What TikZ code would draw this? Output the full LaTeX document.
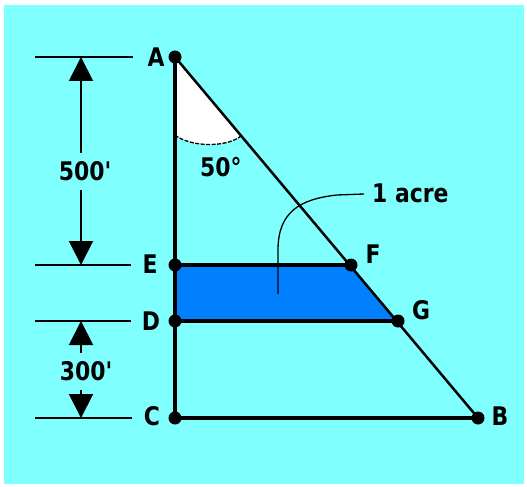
\documentclass[tikz,border=0pt]{standalone}
\usepackage{fontspec}
\usepackage{graphicx}
\setmainfont{DejaVu Sans}
\usetikzlibrary{arrows.meta}
\definecolor{bgcyan}{HTML}{80FFFF}
\definecolor{fillblue}{HTML}{0080FF}
\newcommand{\tallt}[1]{\scalebox{1}[1.17]{#1}}
\begin{document}
\begin{tikzpicture}[x=1bp,y=-1bp,
  lbl/.style={font=\fontsize{22}{26}\selectfont\bfseries, inner sep=0},
  dot/.style={circle, fill=black, inner sep=0, minimum size=13bp},
  heavy/.style={line width=3.5bp},
  hyp/.style={line width=2.5bp},
  dimline/.style={line width=2bp},
  tipend/.style={-{Triangle[length=24bp,width=24bp]}},
  leader/.style={line width=1.3bp},
  arcline/.style={line width=1.3bp, dash pattern=on 4bp off 1.5bp}]
\useasboundingbox (0,0) rectangle (527,487);
\fill[white] (0,0) rectangle (527,487);
\fill[bgcyan] (4,5) rectangle (524,484);
% main points
\coordinate (A) at (175,57);
\coordinate (E) at (175,265);
\coordinate (D) at (175,321);
\coordinate (C) at (175,418);
\coordinate (B) at (478,418);
\coordinate (F) at (351,265);
\coordinate (G) at (398,321);
% blue area
\fill[fillblue] (E) -- (F) -- (G) -- (D) -- cycle;
% angle wedge
\coordinate (w1) at (175,135);
\coordinate (w2) at (241,136);
\fill[white] (A) -- (w1) .. controls (190,147) and (226,148) .. (w2) -- cycle;
\draw[arcline] (w1) .. controls (190,147) and (226,148) .. (w2);
% leader for 1 acre
\coordinate (L1) at (364,194);
\coordinate (L2) at (337,195);
\coordinate (L3) at (278,250);
\coordinate (L4) at (278,294);
\draw[leader] (L1) -- (L2) .. controls (300,199) and (278,212) .. (L3) -- (L4);
% lines
\draw[heavy] (A) -- (C);
\draw[heavy] (E) -- (F);
\draw[heavy] (D) -- (G);
\draw[heavy] (C) -- (B);
\draw[hyp] (A) -- (B);
% dots
\foreach \p in {A,E,D,C,B,F,G}{\node[dot] (dot\p) at (\p) {};}
% dimension ticks
\coordinate (tA1) at (35,57);  \coordinate (tA2) at (133,57);
\coordinate (tE1) at (35,265); \coordinate (tE2) at (131,265);
\coordinate (tD1) at (35,321); \coordinate (tD2) at (131,321);
\coordinate (tC1) at (35,418); \coordinate (tC2) at (132,418);
\draw[dimline] (tA1) -- (tA2);
\draw[dimline] (tE1) -- (tE2);
\draw[dimline] (tD1) -- (tD2);
\draw[dimline] (tC1) -- (tC2);
% dimension arrows
\coordinate (a1s) at (81,153); \coordinate (a1e) at (81,57);
\coordinate (a2s) at (81,190); \coordinate (a2e) at (81,265);
\coordinate (a3s) at (81,353); \coordinate (a3e) at (81,321);
\coordinate (a4s) at (81,390); \coordinate (a4e) at (81,418);
\draw[dimline,tipend] (a1s) -- (a1e);
\draw[dimline,tipend] (a2s) -- (a2e);
\draw[dimline,tipend] (a3s) -- (a3e);
\draw[dimline,tipend] (a4s) -- (a4e);
% labels
\node[lbl] (labA) at (156,57) {\tallt{A}};
\node[lbl] (labE) at (150,264) {\tallt{E}};
\node[lbl] (labD) at (151,321) {\tallt{D}};
\node[lbl] (labC) at (152,416) {\tallt{C}};
\node[lbl] (labB) at (500,416) {\tallt{B}};
\node[lbl] (labF) at (373,254) {\tallt{F}};
\node[lbl] (labG) at (421,310) {\tallt{G}};
\node[lbl] (lab500) at (85,171) {\tallt{500\textquotesingle}};
\node[lbl] (lab300) at (86,371) {\tallt{300\textquotesingle}};
\node[lbl, anchor=base west] (lab50) at (200,177) {\tallt{50°}};
\node[lbl, anchor=west] (labacre) at (372,193) {\tallt{1 acre}};
\end{tikzpicture}
\end{document}
